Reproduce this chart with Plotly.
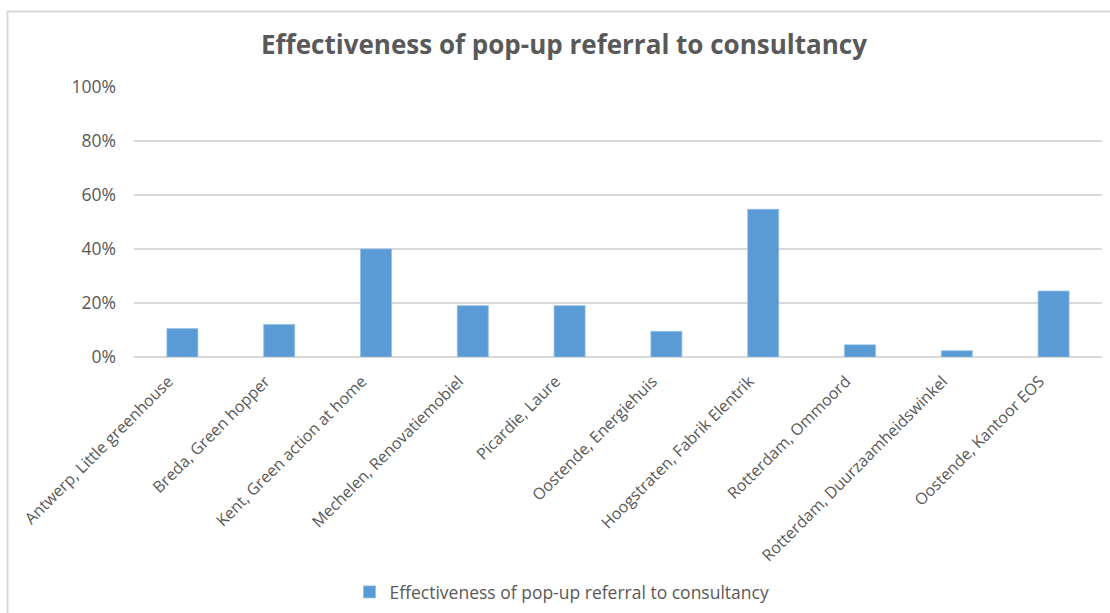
import plotly.graph_objects as go

categories = [
    "Antwerp, Little greenhouse",
    "Breda, Green hopper",
    "Kent, Green action at home",
    "Mechelen, Renovatiemobiel",
    "Picardie, Laure",
    "Oostende, Energiehuis",
    "Hoogstraten, Fabrik Elentrik",
    "Rotterdam, Ommoord",
    "Rotterdam, Duurzaamheidswinkel",
    "Oostende, Kantoor EOS",
]
values = [0.105, 0.12, 0.40, 0.19, 0.19, 0.095, 0.547, 0.045, 0.023, 0.244]
series_name = "Effectiveness of pop-up referral to consultancy"
title_text = "Effectiveness of pop-up referral to consultancy"
y_ticks = [0, 0.2, 0.4, 0.6, 0.8, 1.0]

W, H = 1110, 613
L, R, T, B = 134, 8, 87, 256
pw = W - L - R
ph = H - T - B

def px_x(px):
    return (px - L) / pw

def px_y(py):
    return (H - B - py) / ph

fig = go.Figure()
fig.add_trace(go.Bar(
    x=categories, y=values, name=series_name,
    marker=dict(color="#5b9bd5", line=dict(color="#8fbde6", width=0.8)),
    showlegend=True,
))

fig.update_layout(
    width=W, height=H,
    margin=dict(l=L, r=R, t=T, b=B),
    paper_bgcolor="white", plot_bgcolor="white",
    bargap=0.68,
    font=dict(family="Open Sans", color="#595959"),
    title=dict(text="<b>" + title_text + "</b>", x=px_x(564), xref="paper", xanchor="center",
               y=1 - 45 / H, yanchor="middle",
               font=dict(family="Open Sans", size=26, color="#595959")),
    xaxis=dict(tickangle=-45, tickfont=dict(size=16, color="#595959"),
               showline=False, showgrid=False, ticks="",
               ticklabelstandoff=11, ticklabelshift=-14, automargin=False),
    yaxis=dict(range=[0, 1.0], tickvals=y_ticks, tickformat=".0%",
               tickfont=dict(size=17.5, color="#595959"),
               showgrid=True, gridcolor="#d9d9d9", gridwidth=1.5,
               zeroline=True, zerolinecolor="#d9d9d9", zerolinewidth=1.5,
               showline=False, ticks="", ticklabelstandoff=17, automargin=False),
    legend=dict(orientation="h", x=562 / W, xref="container", xanchor="center",
                y=1 - 592 / H, yref="container", yanchor="middle",
                font=dict(size=17.5, color="#595959"), bgcolor="rgba(0,0,0,0)"),
    shapes=[dict(type="rect", xref="paper", yref="paper",
                 x0=px_x(7.5), x1=px_x(1120), y0=px_y(620), y1=px_y(11.5),
                 line=dict(color="#d9d9d9", width=2), fillcolor="rgba(0,0,0,0)", layer="below")],
)

fig.write_html("out.html", config={"displayModeBar": False},
               post_script="document.body.style.margin='0';document.body.style.overflow='hidden';")
